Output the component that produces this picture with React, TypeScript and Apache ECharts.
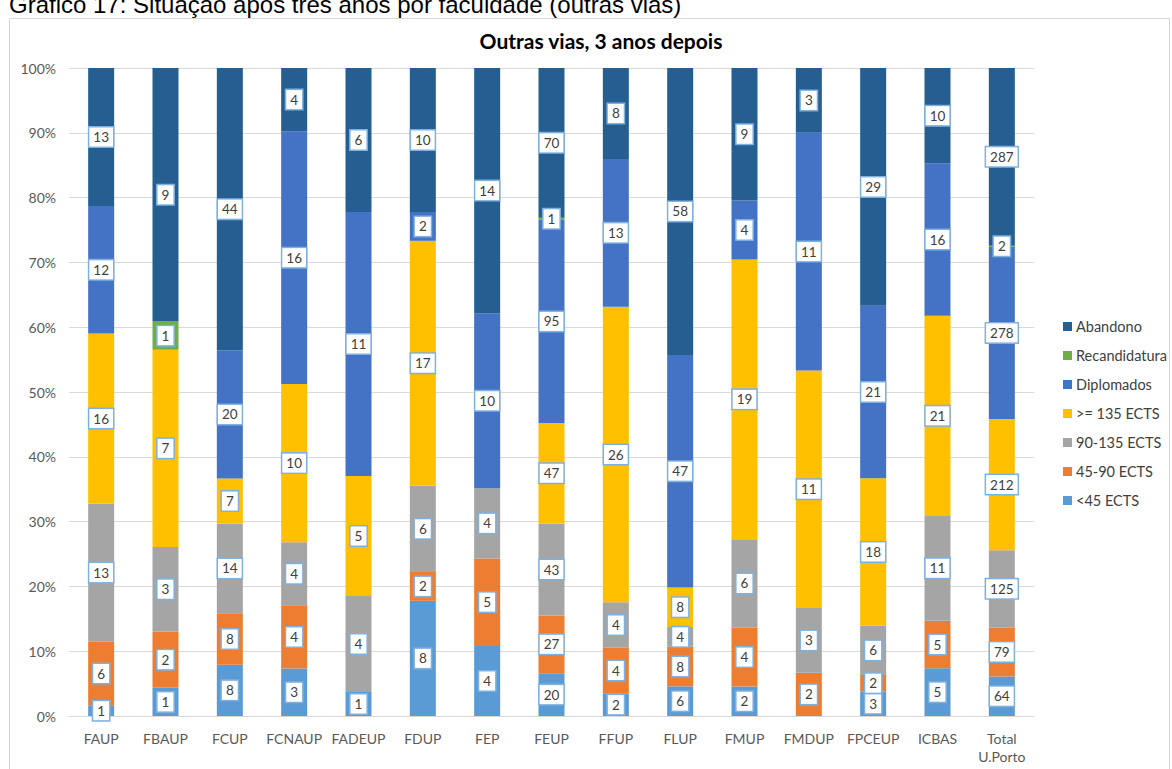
import React, { useEffect, useRef } from "react";
import * as echarts from "echarts";

const categories = ["FAUP", "FBAUP", "FCUP", "FCNAUP", "FADEUP", "FDUP", "FEP", "FEUP", "FFUP", "FLUP", "FMUP", "FMDUP", "FPCEUP", "ICBAS", "Total\nU.Porto"];

const lt45 = [1, 1, 8, 3, 1, 8, 4, 20, 2, 6, 2, 0, 3, 5, 64];
const e45_90 = [6, 2, 8, 4, 0, 2, 5, 27, 4, 8, 4, 2, 2, 5, 79];
const e90_135 = [13, 3, 14, 4, 4, 6, 4, 43, 4, 4, 6, 3, 6, 11, 125];
const ge135 = [16, 7, 7, 10, 5, 17, 0, 47, 26, 8, 19, 11, 18, 21, 212];
const diplomados = [12, 0, 20, 16, 11, 2, 10, 95, 13, 47, 4, 11, 21, 16, 278];
const recandidatura = [0, 1, 0, 0, 0, 0, 0, 1, 0, 0, 0, 0, 0, 0, 2];
const abandono = [13, 9, 44, 4, 6, 10, 14, 70, 8, 58, 9, 3, 29, 10, 287];

const seriesDefs = [
  { name: "<45 ECTS", data: lt45, color: "#5B9BD5" },
  { name: "45-90 ECTS", data: e45_90, color: "#ED7D31" },
  { name: "90-135 ECTS", data: e90_135, color: "#A5A5A5" },
  { name: ">= 135 ECTS", data: ge135, color: "#FFC000" },
  { name: "Diplomados", data: diplomados, color: "#4472C4" },
  { name: "Recandidatura", data: recandidatura, color: "#70AD47" },
  { name: "Abandono", data: abandono, color: "#255E91" },
];

const legendOrder = ["Abandono", "Recandidatura", "Diplomados", ">= 135 ECTS", "90-135 ECTS", "45-90 ECTS", "<45 ECTS"];

const FONT = "Lato, 'Liberation Sans', sans-serif";

export default function App() {
  const ref = useRef<HTMLDivElement>(null);
  useEffect(() => {
    if (!ref.current) return;
    const chart = echarts.init(ref.current, undefined, { renderer: "svg" });
    const totals = categories.map((_, i) => seriesDefs.reduce((s, d) => s + d.data[i], 0));
    const series = seriesDefs.map((d) => ({
      name: d.name,
      type: "bar",
      stack: "all",
      barWidth: 26,
      itemStyle: { color: d.color },
      data: d.data.map((v, i) => ({
        value: (v / totals[i]) * 100,
        raw: v,
        label: { show: v > 0 },
      })),
      label: {
        show: true,
        position: "inside",
        formatter: (p: any) => String(p.data.raw),
        backgroundColor: "#ffffff",
        borderColor: "#7FB1E0",
        borderWidth: 1.5,
        padding: [3, 4, 2, 4],
        color: "#404040",
        fontSize: 13.5,
        fontFamily: FONT,
      },
      labelLayout: { hideOverlap: false },
    }));
    chart.setOption({
      animation: false,
      textStyle: { fontFamily: FONT },
      graphic: [
        {
          type: "text",
          left: 9,
          top: -8,
          style: {
            text: "Gráfico 17: Situação após três anos por faculdade (outras vias)",
            fontSize: 24,
            fontFamily: "'Liberation Sans', Arial, sans-serif",
            fill: "#000000",
          },
        },
        {
          type: "rect",
          shape: { x: 9.5, y: 18.5, width: 1160, height: 780 },
          style: { fill: "none", stroke: "#d9d9d9", lineWidth: 1 },
          z: -1,
        },
      ],
      title: {
        text: "Outras vias, 3 anos depois",
        left: 596,
        textAlign: "center",
        top: 25,
        textStyle: { fontSize: 21, fontWeight: "bold", color: "#000000", fontFamily: FONT },
      },
      legend: {
        orient: "vertical",
        left: 1058,
        top: 314,
        itemWidth: 9,
        itemHeight: 9,
        itemGap: 14,
        icon: "rect",
        data: legendOrder,
        textStyle: { fontSize: 14.5, lineHeight: 15, color: "#404040", fontFamily: FONT, padding: [0, 0, 0, -1] },
      },
      grid: { left: 69, right: 138, top: 68, bottom: 53, containLabel: false },
      xAxis: {
        type: "category",
        data: categories,
        axisLine: { lineStyle: { color: "#d9d9d9" } },
        axisTick: { show: false },
        axisLabel: { color: "#595959", fontSize: 14, fontFamily: FONT, margin: 13, interval: 0, lineHeight: 18 },
      },
      yAxis: {
        type: "value",
        min: 0,
        max: 100,
        interval: 10,
        axisLabel: { formatter: "{value}%", color: "#595959", fontSize: 14, fontFamily: FONT, margin: 13 },
        axisLine: { show: false },
        axisTick: { show: false },
        splitLine: { lineStyle: { color: "#d9d9d9" } },
      },
      series,
    });
    return () => chart.dispose();
  }, []);
  return (
    <div style={{ position: "fixed", left: 0, top: 0, width: 1172, height: 769, background: "#fff" }}>
      <div ref={ref} style={{ width: 1172, height: 769 }} />
    </div>
  );
}
